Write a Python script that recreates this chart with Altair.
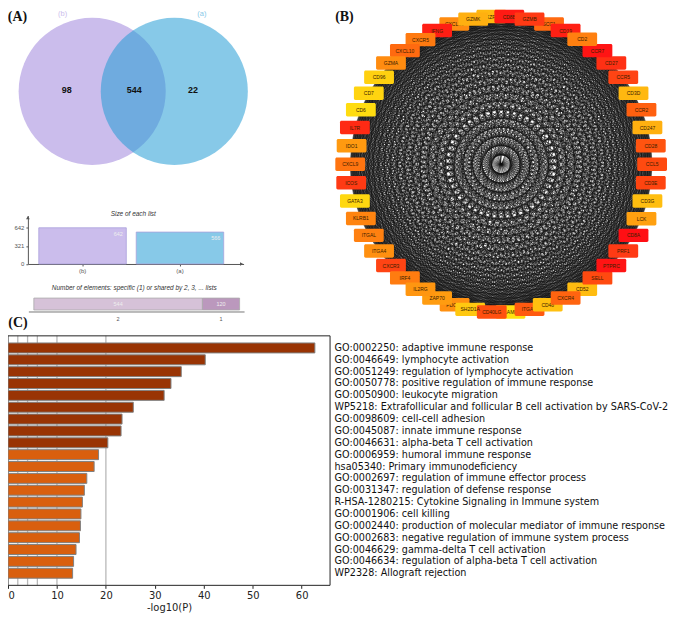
import itertools
import altair as alt
import pandas as pd

# ---------- Panel A ----------
venn_x = [92.7, 175.3]
venn_colors = ["#cbbdec", "#219bd4"]
venn_opacity = [1.0, 0.54]
venn_y = 90
venn_counts = ["98", "544", "22"]
venn_count_x = [67, 135, 194]
list_names = ["(b)", "(a)"]
list_sizes = [642, 566]
list_colors = ["#cbbdec", "#87c9e8"]
share_labels = ["2", "1"]
share_values = [544, 120]
share_colors = ["#d6c2d8", "#bb98bd"]

# ---------- Panel B ----------
genes = ["CXCL13", "IKZF1", "SCC1", "PDCD1", "SLAMF1", "CD52",
         "GZMK", "CD8B", "SH2D1A", "ZAP70", "ITGAM", "IFNG", "CD19", "CD40LG",
         "CD48", "GZMB",
         "CXCR5", "CXCL10", "GZMA", "CD96", "CD7", "CD6", "IL7R", "IDO1", "CXCL9",
         "ICOS", "GATA3", "KLRB1", "ITGAL", "ITGA4", "CXCR3", "IRF4", "IL2RG",
         "CXCR4", "SELL", "PTPRC", "PRF1", "CD8A", "LCK", "CD3G", "CD3E",
         "CCL5", "CD28", "CD247", "CCR2", "CD3D", "CCR5", "CD27", "CCR7", "CD2"]
gene_x = [457, 494.3, 552.3, 457.3, 513.5, 585.7,
          476, 512.3, 473, 439.7, 532.7, 439.7, 569, 494.7,
          551, 532.7,
          423, 407.3, 393.3, 381.3, 371, 363, 357, 353.7, 352.3,
          353.3, 357, 363, 371, 381.3, 393.3, 407.3, 423,
          569, 601, 615, 627, 637.3, 645.3, 651.3, 654.7,
          656, 654.7, 651.3, 645.3, 637.3, 627, 615, 601, 585.7]
gene_y = [15, 7.3, 15, 303.3, 310.7, 287.3,
          10, 7.3, 308, 296.3, 308, 21.7, 21.7, 310.7,
          303.3, 10,
          31, 42.3, 55, 69.7, 86, 103, 121.3, 140, 159,
          178, 196.7, 214.7, 232, 248, 263, 275.7, 287.3,
          296.3, 275.7, 263, 248, 232, 215, 196.7, 178,
          159, 140, 121.3, 103, 86, 69.7, 55, 42.3, 30.7]
gene_fill = ["#ff8c10", "#ffb810", "#ff6a10", "#ff9010", "#ffe010", "#ffbc10",
             "#ffb010", "#ff1a14", "#ffc810", "#ff9c10", "#ff5a10", "#ff1e14", "#ff2014", "#ff5010",
             "#ffc010", "#ff3a14",
             "#ff7a10", "#ff6a10", "#ff8c10", "#ffd010", "#ffd410", "#ffdc10", "#ff2a14", "#ff9a10", "#ff7410",
             "#ff3a14", "#ffd810", "#ff8410", "#ff8010", "#ff9010", "#ff4414", "#ff7c10", "#ff9610",
             "#ff6410", "#ff4a10", "#ff1414", "#ff3a14", "#ff0f14", "#ffa010", "#ffbe10", "#ff4410",
             "#ff4a10", "#ff5410", "#ffb010", "#ff6010", "#ffb810", "#ff4414", "#ff3014", "#ff1414", "#ff8010"]
gene_level = [0, 0, 0, 0, 0, 0,
              1, 1, 1, 1, 1, 1, 1, 1,
              2, 2] + [3] * 34

# ---------- Panel C ----------
terms = ["GO:0002250: adaptive immune response",
         "GO:0046649: lymphocyte activation",
         "GO:0051249: regulation of lymphocyte activation",
         "GO:0050778: positive regulation of immune response",
         "GO:0050900: leukocyte migration",
         "WP5218: Extrafollicular and follicular B cell activation by SARS-CoV-2",
         "GO:0098609: cell-cell adhesion",
         "GO:0045087: innate immune response",
         "GO:0046631: alpha-beta T cell activation",
         "GO:0006959: humoral immune response",
         "hsa05340: Primary immunodeficiency",
         "GO:0002697: regulation of immune effector process",
         "GO:0031347: regulation of defense response",
         "R-HSA-1280215: Cytokine Signaling in Immune system",
         "GO:0001906: cell killing",
         "GO:0002440: production of molecular mediator of immune response",
         "GO:0002683: negative regulation of immune system process",
         "GO:0046629: gamma-delta T cell activation",
         "GO:0046634: regulation of alpha-beta T cell activation",
         "WP2328: Allograft rejection"]
log_p = [62.7, 40.3, 35.4, 33.3, 31.9, 25.6, 23.3, 23.1, 20.4, 18.5,
         17.6, 16.1, 15.6, 15.2, 14.9, 14.8, 14.6, 13.9, 13.4, 13.2]
bar_colors = ["#993404"] * 9 + ["#d95f0e"] * 11
grid_values = [2, 4, 6, 10, 20]

SANS = "Liberation Sans"
SERIF = "Liberation Serif"
GREY = "#555555"
W, H = 324, 579


def text_row(t):
    return pd.DataFrame({"t": [t]})


def letter(text, x, y):
    return (alt.Chart(text_row(text))
            .mark_text(font=SERIF, fontSize=14, fontWeight="bold", color="#111111")
            .encode(text="t:N", x=alt.value(x), y=alt.value(y)))


# Venn ------------------------------------------------------------------
vx = alt.Scale(domain=[8, 258], range=[0, 250], nice=False, zero=False)
vy = alt.Scale(domain=[8, 215], range=[0, 207], nice=False, zero=False)
vX = lambda f: alt.X(f, scale=vx, axis=None)
vY = lambda f: alt.Y(f, scale=vy, axis=None)
venn_df = pd.DataFrame({"x": venn_x, "y": [venn_y] * 2, "c": venn_colors, "o": venn_opacity})
venn_circles = (alt.Chart(venn_df).mark_circle(size=21904)
                .encode(x=vX("x:Q"), y=vY("y:Q"),
                        color=alt.Color("c:N", scale=None),
                        opacity=alt.Opacity("o:Q", scale=None)))
count_df = pd.DataFrame({"x": venn_count_x, "y": [89] * 3, "t": venn_counts})
venn_counts_text = (alt.Chart(count_df)
                    .mark_text(font=SANS, fontSize=9, fontWeight="bold", color="#111111")
                    .encode(x=vX("x:Q"), y=vY("y:Q"), text="t:N"))
names_df = pd.DataFrame({"x": [63, 203], "y": [12, 12], "t": list_names, "c": list_colors})
venn_names = (alt.Chart(names_df).mark_text(font=SANS, fontSize=7.5)
              .encode(x=vX("x:Q"), y=vY("y:Q"), text="t:N",
                      color=alt.Color("c:N", scale=None)))

# Size of each list -----------------------------------------------------
size_df = pd.DataFrame({"n": list_names, "v": list_sizes, "c": list_colors})
size_x_scale = alt.Scale(type="band", range=[20, 237], paddingInner=0.102, paddingOuter=0.158, align=0.355)
size_y_scale = alt.Scale(domain=[0, 859], range=[255.7, 207], nice=False)
size_bars = (alt.Chart(size_df).mark_bar(strokeWidth=0.8, stroke="#a9a0dc")
             .encode(
                 x=alt.X("n:N", sort=list_names, title=None, scale=size_x_scale,
                         axis=alt.Axis(orient="bottom", labelAngle=0, labelFont=SANS, labelFontSize=6,
                                       labelColor=GREY, domainColor=GREY, tickColor=GREY, tickSize=2,
                                       labelPadding=2, offset=255.7 - H)),
                 y=alt.Y("v:Q", title=None, scale=size_y_scale,
                         axis=alt.Axis(orient="left", values=[0, 321, 642], grid=False, labelFont=SANS,
                                       labelFontSize=6, labelColor=GREY, domainColor=GREY, tickColor=GREY,
                                       tickSize=2, labelPadding=2, offset=-20)),
                 color=alt.Color("c:N", scale=None)))
size_text = (alt.Chart(size_df)
             .mark_text(font=SANS, fontSize=5.5, color="#eeeeee", dx=36, dy=6.2)
             .encode(x=alt.X("n:N", sort=list_names, scale=size_x_scale, axis=None),
                     y=alt.Y("v:Q", scale=size_y_scale, axis=None), text="v:N"))
size_title = (alt.Chart(text_row("Size of each list"))
              .mark_text(font=SANS, fontSize=6.5, fontStyle="italic", color="#333333")
              .encode(text="t:N", x=alt.value(126), y=alt.value(205)))
arrow_r = (alt.Chart(text_row("a")).mark_point(filled=True, size=14, color=GREY, opacity=1, shape="triangle-right")
           .encode(x=alt.value(235), y=alt.value(255.7)))
arrow_u = (alt.Chart(text_row("a")).mark_point(filled=True, size=14, color=GREY, opacity=1, shape="triangle-up")
           .encode(x=alt.value(20), y=alt.value(209)))

# Shared elements -------------------------------------------------------
starts = [sum(share_values[:i]) for i in range(len(share_values))]
share_df = pd.DataFrame({"lab": share_labels, "v": share_values, "c": share_colors,
                         "a": starts, "b": [s + v for s, v in zip(starts, share_values)]})
share_df["m"] = (share_df["a"] + share_df["b"]) / 2
sx = alt.Scale(domain=[-16, 680], range=[21, 238], nice=False, zero=False)
share_bars = (alt.Chart(share_df).mark_bar(stroke="#aaaaaa", strokeWidth=0.8)
              .encode(x=alt.X("a:Q", scale=sx, axis=None), x2="b:Q",
                      y=alt.value(290), y2=alt.value(302),
                      color=alt.Color("c:N", scale=None)))
share_vals = (alt.Chart(share_df).mark_text(font=SANS, fontSize=5.5, color="#eeeeee")
              .encode(x=alt.X("m:Q", scale=sx, axis=None), y=alt.value(296), text="v:N"))
share_labs = (alt.Chart(share_df).mark_text(font=SANS, fontSize=5.5, color=GREY)
              .encode(x=alt.X("m:Q", scale=sx, axis=None), y=alt.value(311), text="lab:N"))
share_line = (alt.Chart(share_df.head(1)).mark_rule(color=GREY, strokeWidth=0.8)
              .encode(x=alt.value(21), x2=alt.value(238), y=alt.value(304)))
share_title = (alt.Chart(text_row("Number of elements: specific (1) or shared by 2, 3, ... lists"))
               .mark_text(font=SANS, fontSize=6.5, fontStyle="italic", color="#333333")
               .encode(text="t:N", x=alt.value(127), y=alt.value(280)))

# Network ---------------------------------------------------------------
nx = alt.Scale(domain=[258, 672], range=[250, 664], nice=False, zero=False)
ny = alt.Scale(domain=[0.41, 310.7], range=[0, 304], nice=False, zero=False)
nodes = pd.DataFrame({"g": genes, "x": gene_x, "y": gene_y, "f": gene_fill, "lev": gene_level})
edges = pd.DataFrame([
    {"x1": a.x, "y1": a.y, "x2": b.x, "y2": b.y}
    for a, b in itertools.combinations(nodes.itertuples(), 2)
])
net_edges = (alt.Chart(edges).mark_rule(color="#111111", strokeWidth=0.5)
             .encode(x=alt.X("x1:Q", scale=nx, axis=None),
                     y=alt.Y("y1:Q", scale=ny, axis=None),
                     x2="x2:Q", y2="y2:Q"))
net_layers = [net_edges]
for lev in sorted(set(gene_level)):
    sub = nodes[nodes["lev"] == lev]
    net_layers.append(
        alt.Chart(sub).mark_rect(width=30, height=13.5, cornerRadius=1.5)
        .encode(x=alt.X("x:Q", scale=nx, axis=None), y=alt.Y("y:Q", scale=ny, axis=None),
                color=alt.Color("f:N", scale=None)))
    net_layers.append(
        alt.Chart(sub).mark_text(font=SANS, fontSize=5, color="#3a2000")
        .encode(x=alt.X("x:Q", scale=nx, axis=None), y=alt.Y("y:Q", scale=ny, axis=None),
                text="g:N"))

# Panel C ---------------------------------------------------------------
cx = alt.Scale(domain=[0, 65.8], range=[0, W], nice=False, zero=False)
cy = alt.Scale(domain=terms, range=[328, H], paddingInner=0.16, paddingOuter=0.6)
c_df = pd.DataFrame({"t": terms, "v": log_p, "c": bar_colors})
c_frame = (alt.Chart(text_row("f")).mark_rect(fill="transparent", stroke="#222222", strokeWidth=1)
           .encode(x=alt.value(0), x2=alt.value(W), y=alt.value(328), y2=alt.value(H)))
c_grid = (alt.Chart(pd.DataFrame({"g": grid_values})).mark_rule(color="#b8b8b8", strokeWidth=1.3)
          .encode(x=alt.X("g:Q", scale=cx, axis=None), y=alt.value(328), y2=alt.value(H)))
c_bars = (alt.Chart(c_df).mark_bar(stroke="#808080", strokeWidth=1)
          .encode(
              x=alt.X("v:Q", scale=cx, title="-log10(P)",
                      axis=alt.Axis(orient="bottom", values=[0, 10, 20, 30, 40, 50, 60], grid=False,
                                    tickSize=3, labelFont="DejaVu Sans", labelFontSize=10,
                                    labelColor="#222222", titleFont="DejaVu Sans", titleFontSize=10,
                                    titleFontWeight="normal", titleColor="#222222", titlePadding=2,
                                    labelFlush=True, domain=False, tickColor="#222222")),
              y=alt.Y("t:N", sort=terms, title=None, scale=cy,
                      axis=alt.Axis(orient="right", domain=False, ticks=False, labelPadding=4,
                                    labelLimit=600, labelFont="DejaVu Sans", labelFontSize=9.7,
                                    labelColor="#111111")),
              color=alt.Color("c:N", scale=None)))

chart = (alt.layer(
    venn_circles, venn_counts_text, venn_names,
    size_bars, size_text, size_title, arrow_r, arrow_u,
    share_bars, share_vals, share_labs, share_line, share_title,
    *net_layers,
    c_grid, c_frame, c_bars,
    letter("(A)", 9.5, 7), letter("(B)", 338.5, 7), letter("(C)", 10, 315),
).resolve_scale(x="independent", y="independent")
 .properties(width=W, height=H, padding={"left": -1, "top": 0, "right": 0, "bottom": 0})
 .configure_view(stroke=None))

chart.save("out.html", embed_options={"renderer": "svg", "actions": False})
